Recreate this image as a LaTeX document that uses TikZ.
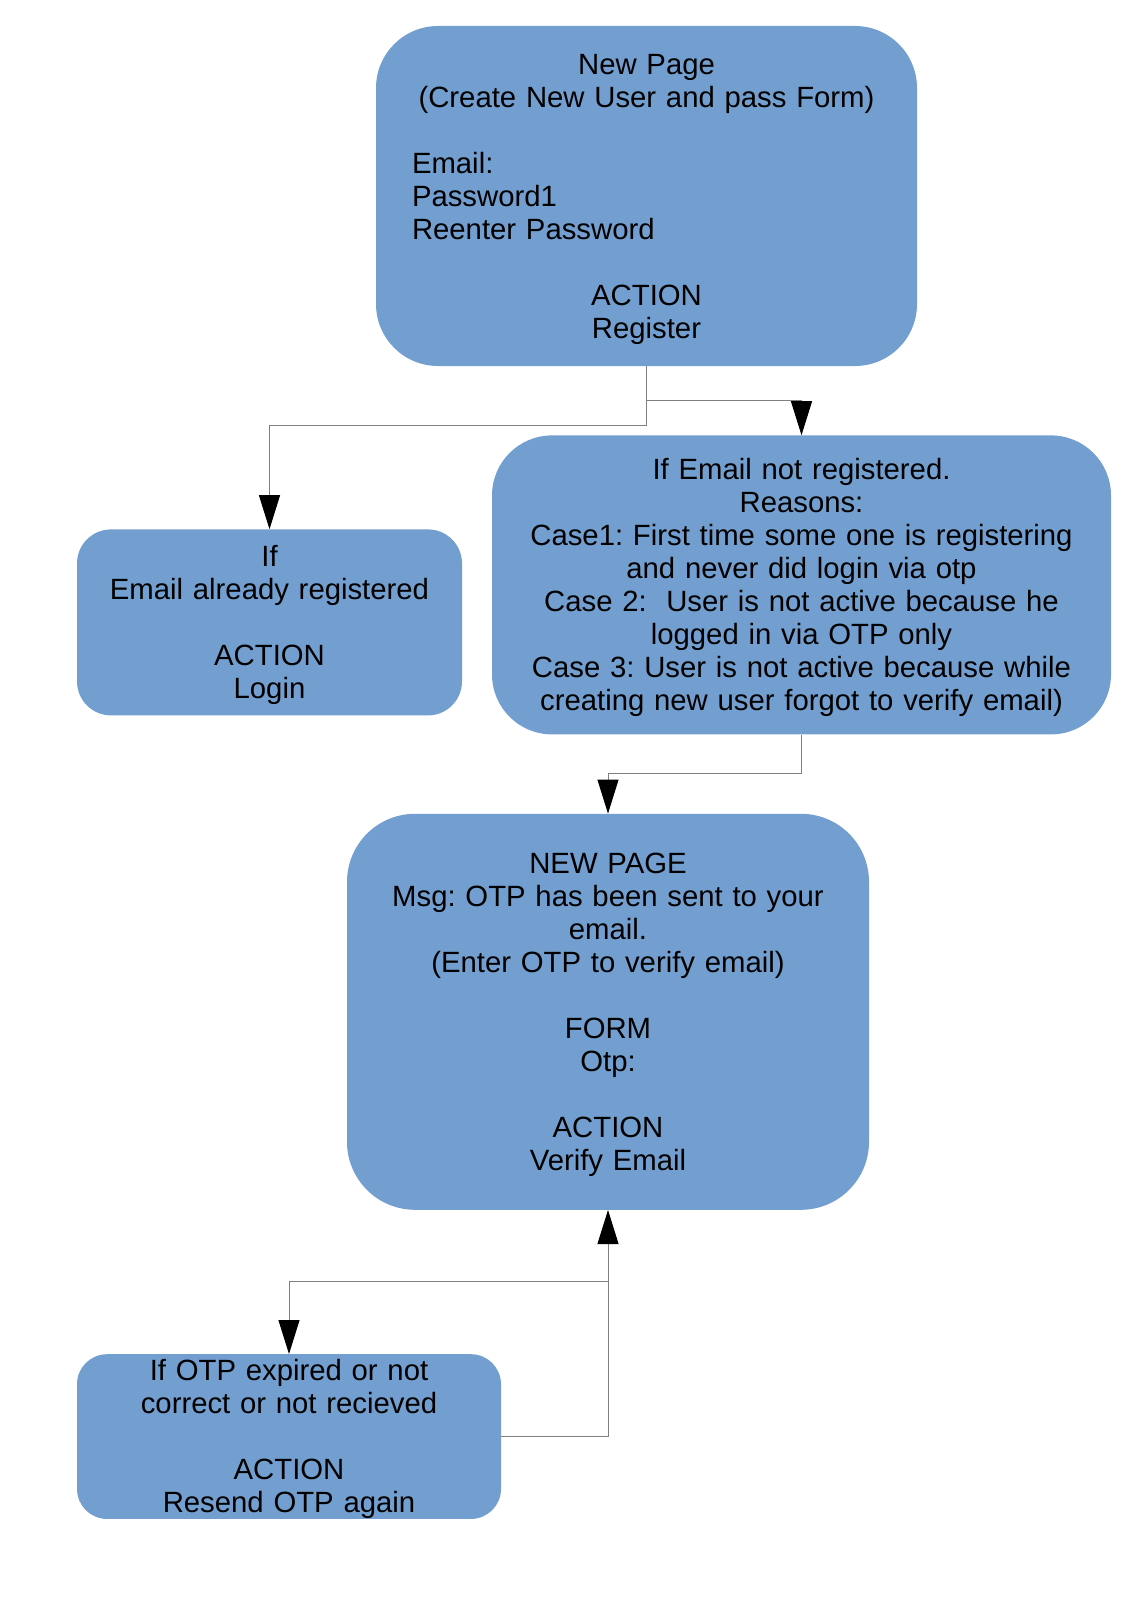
\documentclass[tikz,border=0pt]{standalone}
\usepackage{fontspec}
\setmainfont{Liberation Sans}
\frenchspacing
\usepackage{tikz}
\usetikzlibrary{positioning}
\usetikzlibrary{arrows.meta}
\definecolor{boxblue}{RGB}{114,159,207}
\definecolor{linegray}{RGB}{128,128,128}
\tikzstyle{page} = [rectangle, fill=boxblue, text=black, align=center, inner sep=0pt, font=\fontsize{29.3}{33}\selectfont,
	execute at begin node={\rule{0pt}{26.5pt}}, execute at end node={\rule[-6.2pt]{0pt}{6.2pt}}]
\tikzstyle{link} = [draw=linegray, line width=1pt]

\begin{document}
\begin{tikzpicture}[x=1pt, y=-1pt, >={Triangle[length=34pt, width=21pt, color=black]}]
	\useasboundingbox (0,0) rectangle (1127,1600);
	\node [page, minimum width=541pt, minimum height=340pt, rounded corners=62pt, text width=469pt] (newpage) at (646.5,196)
		{New Page\\(Create New User and pass Form)\\[33pt]
		\makebox[469pt][l]{Email:}\\\makebox[469pt][l]{Password1}\\\makebox[469pt][l]{Reenter Password}\\[33pt]
		ACTION\\Register};
	\node [page, minimum width=619pt, minimum height=299pt, rounded corners=60pt, text width=600pt, below=69pt of newpage, xshift=155pt] (notreg)
		{If Email not registered.\\Reasons:\\Case1: First time some one is registering\\and never did login via otp\\
		Case 2:\ \ User is not active because he\\logged in via OTP only\\Case 3: User is not active because while\\creating new user forgot to verify email)};
	\node [page, minimum width=385pt, minimum height=186pt, rounded corners=34pt, text width=370pt, below=163pt of newpage, xshift=-377pt] (registered)
		{If\\Email already registered\\[33pt]ACTION\\Login};
	\node [page, minimum width=522pt, minimum height=396pt, rounded corners=68pt, text width=500pt, below=79pt of notreg, xshift=-193.5pt] (verify)
		{NEW PAGE\\Msg: OTP has been sent to your\\email.\\(Enter OTP to verify email)\\[33pt]FORM\\Otp:\\[33pt]ACTION\\Verify Email};
	\node [page, minimum width=424pt, minimum height=164pt, rounded corners=30pt, text width=410pt, below=144pt of verify, xshift=-319pt] (resend)
		{If OTP expired or not\\correct or not recieved\\[33pt]ACTION\\Resend OTP again};

	\draw [link, ->] (newpage.south) -- ++(0,34) -| (notreg.north);
	\draw [link, ->] (newpage.south) -- ++(0,59) -| (registered.north);
	\draw [link, ->] (notreg.south) -- ++(0,39) -| (verify.north);
	\draw [link, ->] (resend.east) -| (verify.south);
	\draw [link, ->] (verify.south) ++(0,71) -| (resend.north);
\end{tikzpicture}
\end{document}
